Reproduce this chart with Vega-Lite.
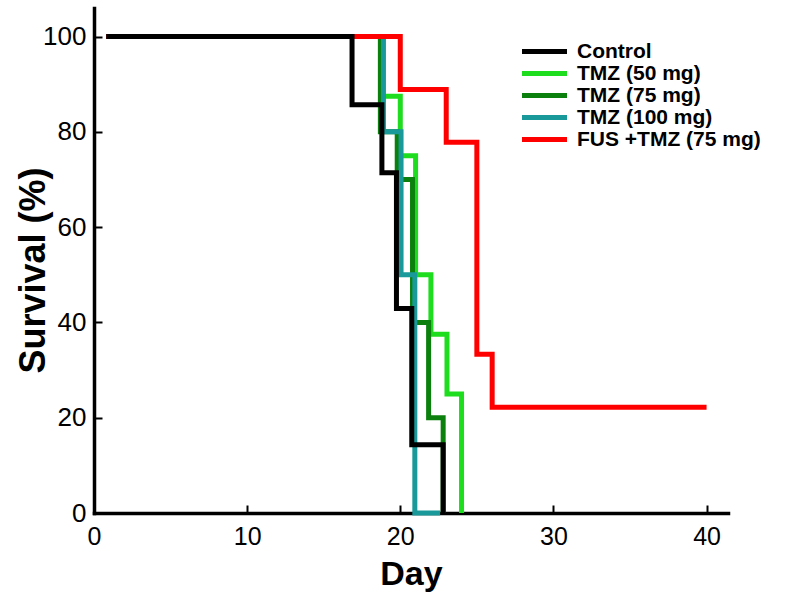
{
  "$schema": "https://vega.github.io/schema/vega-lite/v6.json",
  "width": 634,
  "height": 505,
  "autosize": "none",
  "padding": {"left": 94, "top": 8, "right": 58, "bottom": 86},
  "background": "white",
  "config": {"view": {"stroke": null}, "font": "Liberation Sans"},
  "data": {
    "values": [
      {"series": "Control", "day": 0.8, "surv": 100},
      {"series": "Control", "day": 16.85, "surv": 85.7},
      {"series": "Control", "day": 18.8, "surv": 71.4},
      {"series": "Control", "day": 19.75, "surv": 42.9},
      {"series": "Control", "day": 20.75, "surv": 14.3},
      {"series": "Control", "day": 22.8, "surv": 0},
      {"series": "TMZ (50 mg)", "day": 0.8, "surv": 100},
      {"series": "TMZ (50 mg)", "day": 18.8, "surv": 87.5},
      {"series": "TMZ (50 mg)", "day": 20, "surv": 75},
      {"series": "TMZ (50 mg)", "day": 21, "surv": 50},
      {"series": "TMZ (50 mg)", "day": 22, "surv": 37.5},
      {"series": "TMZ (50 mg)", "day": 23.05, "surv": 25},
      {"series": "TMZ (50 mg)", "day": 24, "surv": 0},
      {"series": "TMZ (75 mg)", "day": 0.8, "surv": 100},
      {"series": "TMZ (75 mg)", "day": 18.7, "surv": 80},
      {"series": "TMZ (75 mg)", "day": 19.8, "surv": 70},
      {"series": "TMZ (75 mg)", "day": 20.8, "surv": 40},
      {"series": "TMZ (75 mg)", "day": 21.85, "surv": 20},
      {"series": "TMZ (75 mg)", "day": 22.8, "surv": 0},
      {"series": "TMZ (100 mg)", "day": 0.8, "surv": 100},
      {"series": "TMZ (100 mg)", "day": 18.9, "surv": 80},
      {"series": "TMZ (100 mg)", "day": 20.05, "surv": 50},
      {"series": "TMZ (100 mg)", "day": 20.95, "surv": 0},
      {"series": "TMZ (100 mg)", "day": 22.6, "surv": 0},
      {"series": "FUS +TMZ (75 mg)", "day": 0.8, "surv": 100},
      {"series": "FUS +TMZ (75 mg)", "day": 20, "surv": 88.9},
      {"series": "FUS +TMZ (75 mg)", "day": 23, "surv": 77.8},
      {"series": "FUS +TMZ (75 mg)", "day": 25, "surv": 33.3},
      {"series": "FUS +TMZ (75 mg)", "day": 26, "surv": 22.2},
      {"series": "FUS +TMZ (75 mg)", "day": 40, "surv": 22.2}
    ]
  },
  "encoding": {
    "x": {
      "field": "day", "type": "quantitative",
      "scale": {"domain": [0, 41.4], "nice": false, "zero": false},
      "axis": {
        "values": [0, 10, 20, 30, 40], "title": "Day", "grid": false,
        "domainColor": "black", "domainWidth": 3.5, "domainCap": "square",
        "tickColor": "black", "tickWidth": 2, "tickSize": -8,
        "labelFontSize": 25, "labelColor": "black", "labelPadding": 19, "labelFlush": false,
        "titleFontSize": 34, "titleFontWeight": "bold", "titleColor": "black", "titlePadding": 8
      }
    },
    "y": {
      "field": "surv", "type": "quantitative",
      "scale": {"domain": [0, 106], "nice": false, "zero": false},
      "axis": {
        "values": [0, 20, 40, 60, 80, 100], "title": "Survival (%)", "grid": false,
        "domainColor": "black", "domainWidth": 3.5, "domainCap": "square",
        "tickColor": "black", "tickWidth": 2, "tickSize": -8,
        "labelFontSize": 26, "labelColor": "black", "labelPadding": 16, "labelFlush": false,
        "titleFontSize": 36, "titleFontWeight": "bold", "titleColor": "black",
        "titleX": -42, "titleY": 262
      }
    },
    "color": {
      "field": "series", "type": "nominal",
      "scale": {
        "domain": ["Control", "TMZ (50 mg)", "TMZ (75 mg)", "TMZ (100 mg)", "FUS +TMZ (75 mg)"],
        "range": ["#000000", "#1edd1e", "#0c800c", "#199999", "#ff0000"]
      },
      "legend": {
        "title": null, "orient": "none", "legendX": 440, "legendY": 33,
        "symbolType": "M-3,0H3", "symbolSize": 225, "symbolStrokeWidth": 5,
        "labelFontSize": 21, "labelFontWeight": "bold", "labelColor": "black", "labelLimit": 0,
        "rowPadding": 0, "labelOffset": 22
      }
    }
  },
  "layer": [
    {"transform": [{"filter": "datum.series === 'TMZ (50 mg)'"}], "mark": {"type": "line", "interpolate": "step-after", "strokeWidth": 5, "strokeJoin": "miter", "strokeCap": "butt"}},
    {"transform": [{"filter": "datum.series === 'TMZ (75 mg)'"}], "mark": {"type": "line", "interpolate": "step-after", "strokeWidth": 5, "strokeJoin": "miter", "strokeCap": "butt"}},
    {"transform": [{"filter": "datum.series === 'TMZ (100 mg)'"}], "mark": {"type": "line", "interpolate": "step-after", "strokeWidth": 5, "strokeJoin": "miter", "strokeCap": "butt"}},
    {"transform": [{"filter": "datum.series === 'FUS +TMZ (75 mg)'"}], "mark": {"type": "line", "interpolate": "step-after", "strokeWidth": 5, "strokeJoin": "miter", "strokeCap": "butt"}},
    {"transform": [{"filter": "datum.series === 'Control'"}], "mark": {"type": "line", "interpolate": "step-after", "strokeWidth": 5, "strokeJoin": "miter", "strokeCap": "butt"}}
  ]
}
